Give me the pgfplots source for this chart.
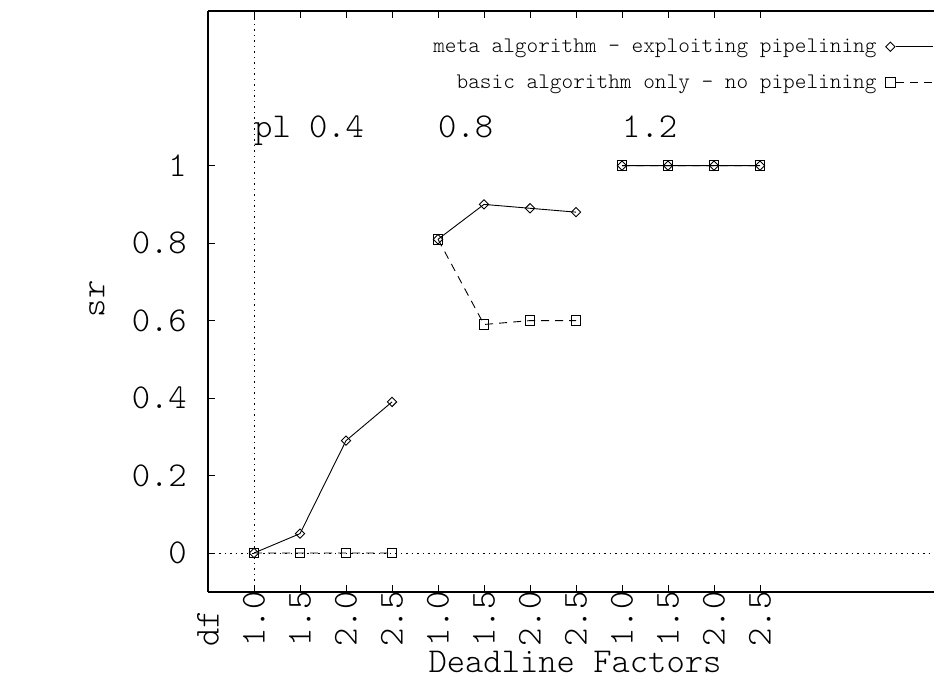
\documentclass[border=0pt]{standalone}
\usepackage{pgfplots}
\pgfplotsset{compat=1.18}
\newcommand{\bigtt}{\ttfamily\fontseries{l}\fontsize{35}{40}\selectfont}
\newcommand{\smalltt}{\ttfamily\fontseries{l}\fontsize{22.3}{26}\selectfont}
\begin{document}
\begin{tikzpicture}[x=1bp,y=1bp]
\useasboundingbox (0,0) rectangle (934,679);
\begin{axis}[
  at={(208bp,87.25bp)}, anchor=south west,
  scale only axis, width=726bp, height=581bp,
  xmin=0, xmax=15.7826, ymin=-0.1, ymax=1.4,
  separate axis lines,
  axis x line*=box, axis y line*=left,
  axis line style={-, line width=1.8bp},
  every outer x axis line/.append style={-},
  every outer y axis line/.append style={-},
  xtick={0,...,12},
  xticklabels={df,1.0,1.5,2.0,2.5,1.0,1.5,2.0,2.5,1.0,1.5,2.0,2.5},
  ytick={0,0.2,0.4,0.6,0.8,1},
  yticklabels={0,0.2,0.4,0.6,0.8,1},
  tick style={line width=1bp, black}, major tick length=7bp,
  tick label style={font=\bigtt},
  xticklabel style={rotate=90, anchor=west, inner sep=0pt},
  xticklabel shift=55bp,
  yticklabel style={inner sep=0pt},
  yticklabel shift=21bp,
  xlabel={Deadline Factors},
  xlabel style={font=\bigtt, at={(axis description cs:0.5055,-0.121)}, anchor=center, inner sep=0pt},
  ylabel={sr},
  ylabel style={font=\bigtt, at={(axis description cs:-0.153,0.504)}, anchor=center, inner sep=0pt},
  unbounded coords=jump,
  legend cell align=right, legend plot pos=right,
  legend style={draw=none, fill=none, at={(axis description cs:1,0.9565)}, anchor=north east,
    font=\smalltt, row sep=15bp, column sep=9bp, inner sep=0pt,
    nodes={inner sep=0pt, text height=16bp, text depth=5bp}},
  legend image code/.code={\draw[#1, mark=none] (6bp,0bp) -- (43bp,0bp); \draw[#1] plot coordinates {(0bp,0bp)};},
]
\draw[black, line width=0.9bp, dash pattern=on 1.5bp off 4bp] (axis cs:0,0) -- (axis cs:15.7826,0);
\draw[black, line width=0.9bp, dash pattern=on 1.5bp off 4bp] (axis cs:1,-0.1) -- (axis cs:1,1.4);
\addplot[black, line width=0.9bp, mark=square, mark size=3.3bp, mark options={solid, rotate=45}]
  coordinates {(1,0)(2,0.05)(3,0.29)(4,0.39)(4.5,nan)(5,0.81)(6,0.90)(7,0.89)(8,0.88)(8.5,nan)(9,1)(10,1)(11,1)(12,1)};
\addlegendentry{meta algorithm - exploiting pipelining}
\addplot[black, line width=0.9bp, dash pattern=on 8bp off 6bp, mark=square, mark size=4.8bp, mark options={solid}]
  coordinates {(1,0)(2,0)(3,0)(4,0)(4.5,nan)(5,0.81)(6,0.59)(7,0.60)(8,0.60)(8.5,nan)(9,1)(10,1)(11,1)(12,1)};
\addlegendentry{basic algorithm only - no pipelining}
\node[anchor=base west, inner sep=0pt, font=\bigtt] at (axis cs:1,1.073) {pl 0.4};
\node[anchor=base west, inner sep=0pt, font=\bigtt] at (axis cs:5,1.073) {0.8};
\node[anchor=base west, inner sep=0pt, font=\bigtt] at (axis cs:9,1.073) {1.2};
\end{axis}
\end{tikzpicture}
\end{document}
